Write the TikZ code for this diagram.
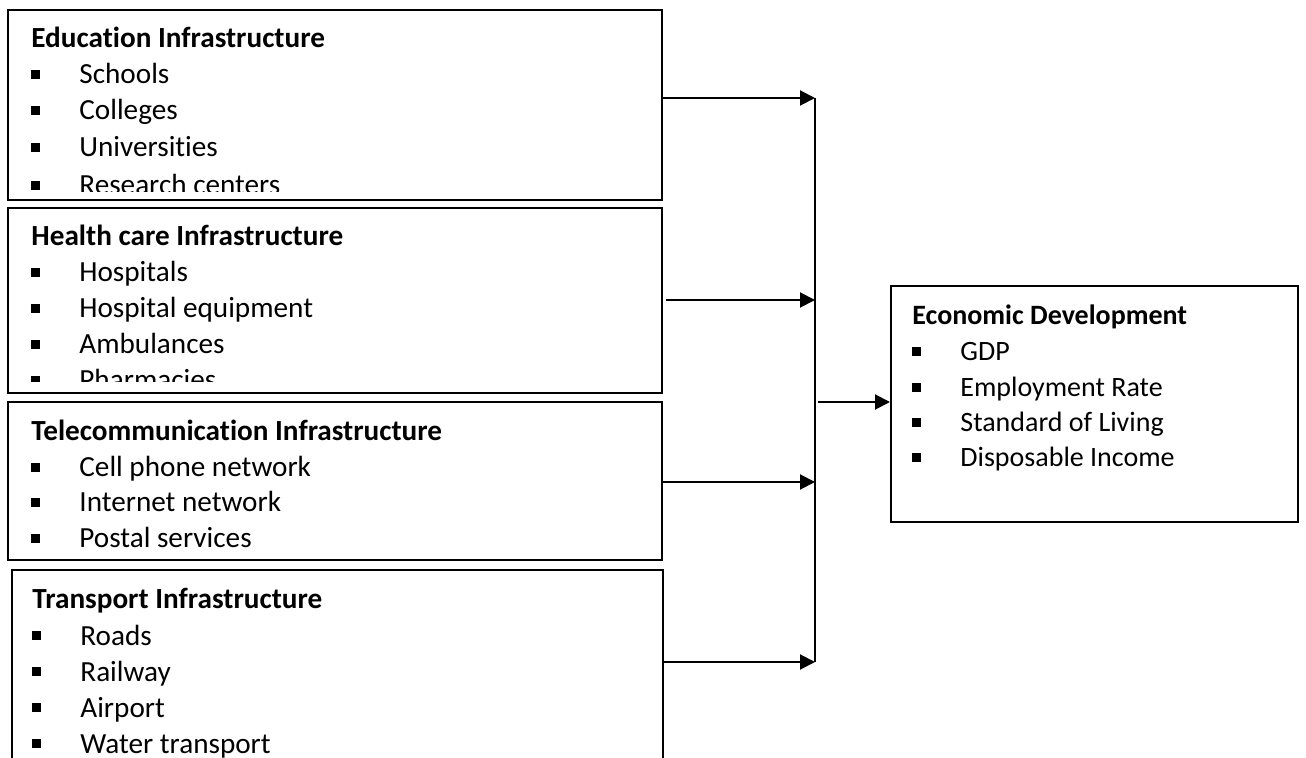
\documentclass[tikz,border=0pt]{standalone}
\usepackage{fontspec}
\setmainfont{Carlito}[Ligatures=CommonOff]
\usetikzlibrary{arrows.meta}
\newcommand{\bitem}[1]{\makebox[24pt][l]{\rule[2.5pt]{4.5pt}{4.5pt}}#1}

\begin{document}
\begin{tikzpicture}[x=0.5pt, y=-0.5pt,
		box/.style={draw, line width=1pt, inner sep=0pt},
		txt/.style={anchor=base west, inner sep=0pt, font=\fontsize{14.6pt}{18pt}\selectfont},
		etxt/.style={anchor=base west, inner sep=0pt, font=\fontsize{14pt}{18pt}\selectfont},
		arr/.style={line width=1pt, -{Triangle[length=7.5pt, width=7.5pt]}}]
				\useasboundingbox (0,0) rectangle (1306,758);
				\clip (0,0) rectangle (1306,758);
				%--
				\node[box, minimum width=327pt, minimum height=95pt] (edu) at (335,105) {};
				\begin{scope}
					\clip (8,10) rectangle (662,192);
					\node[txt] (e0) at (31,48) {\textbf{Education Infrastructure}};
					\node[txt] (e1) at (31,84) {\bitem{Schools}};
					\node[txt] (e2) at (31,120) {\bitem{Colleges}};
					\node[txt] (e3) at (31,157) {\bitem{Universities}};
					\node[txt] (e4) at (31,195) {\bitem{Research centers}};
				\end{scope}
				%--
				\node[box, minimum width=327pt, minimum height=92.5pt] (hea) at (335,300.5) {};
				\begin{scope}
					\clip (8,208) rectangle (662,382);
					\node[txt] (h0) at (31,246) {\textbf{Health care Infrastructure}};
					\node[txt] (h1) at (31,282) {\bitem{Hospitals}};
					\node[txt] (h2) at (31,318) {\bitem{Hospital equipment}};
					\node[txt] (h3) at (31,354) {\bitem{Ambulances}};
					\node[txt] (h4) at (31,390) {\bitem{Pharmacies}};
				\end{scope}
				%--
				\node[box, minimum width=327pt, minimum height=79pt] (tel) at (335,481) {};
				\node[txt] (t0) at (31,441) {\textbf{Telecommunication Infrastructure}};
				\node[txt] (t1) at (31,477) {\bitem{Cell phone network}};
				\node[txt] (t2) at (31,512) {\bitem{Internet network}};
				\node[txt] (t3) at (31,548) {\bitem{Postal services}};
				%--
				\node[box, minimum width=325.5pt, minimum height=95pt] (tra) at (337.5,665) {};
				\node[txt] (r0) at (32,609) {\textbf{Transport Infrastructure}};
				\node[txt] (r1) at (32,645) {\bitem{Roads}};
				\node[txt] (r2) at (32,681) {\bitem{Railway}};
				\node[txt] (r3) at (32,717) {\bitem{Airport}};
				\node[txt] (r4) at (32,753) {\bitem{Water transport}};
				%--
				\node[box, minimum width=203.5pt, minimum height=118pt] (eco) at (1094.5,404) {};
				\node[etxt] (d0) at (912,325) {\textbf{Economic Development}};
				\node[etxt] (d1) at (912,361) {\bitem{GDP}};
				\node[etxt] (d2) at (912,397) {\bitem{Employment Rate}};
				\node[etxt] (d3) at (912,432) {\bitem{Standard of Living}};
				\node[etxt] (d4) at (912,467) {\bitem{Disposable Income}};
				%--
				\coordinate (b1) at (815,98);
				\coordinate (b2) at (815,300);
				\coordinate (b3) at (815,482);
				\coordinate (b4) at (815,662);
				\coordinate (bm) at (818,402);
				\draw[line width=1pt] (b1) -- (b4);
				\draw[arr] (edu.east |- b1) -- (b1);
				\draw[arr] ([xshift=1.5pt]hea.east |- b2) -- (b2);
				\draw[arr] (tel.east |- b3) -- (b3);
				\draw[arr] (tra.east |- b4) -- (b4);
				\draw[arr] (bm) -- (eco.west |- bm);
			\end{tikzpicture}
\end{document}
